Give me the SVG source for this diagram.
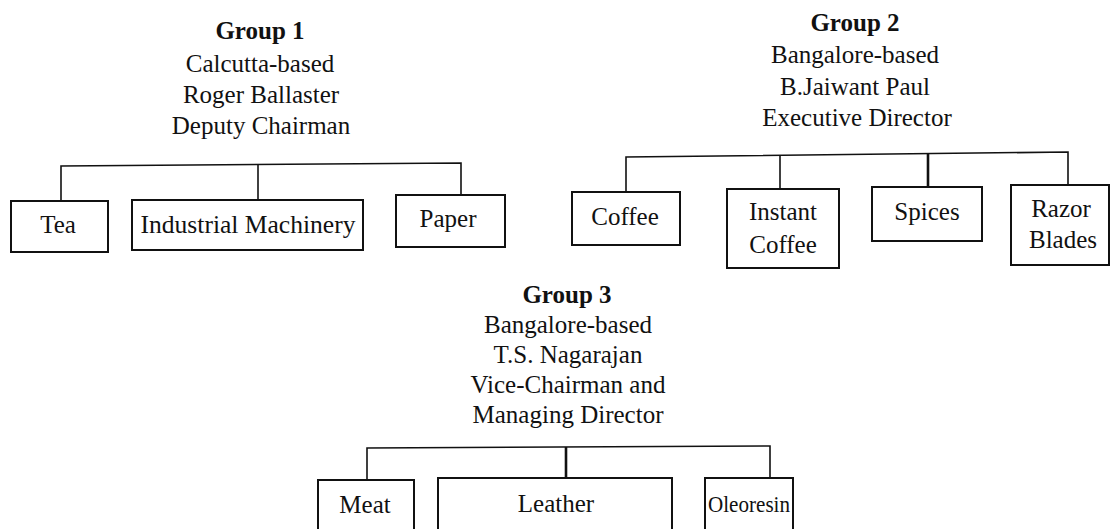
<svg xmlns="http://www.w3.org/2000/svg" width="1114" height="529" viewBox="0 0 1114 529">
<style>
text{font-family:"Liberation Serif","Times New Roman",serif;font-size:25px;fill:#111;text-anchor:middle}
.t{font-weight:bold}
.box{fill:none;stroke:#111;stroke-width:2}
.c{fill:none;stroke:#111;stroke-width:1.6}
.k{fill:none;stroke:#111;stroke-width:2.6}
</style>
<rect width="1114" height="529" fill="#fff"/>
<g id="connectors">
<polyline class="c" points="61,201 61,166 461,163 461,195"/>
<line class="c" x1="258" y1="165" x2="258" y2="200"/>
<polyline class="c" points="626,192 626,157 1068,152 1068,185"/>
<line class="c" x1="780" y1="156" x2="780" y2="189"/>
<line class="k" x1="928" y1="154" x2="928" y2="187"/>
<polyline class="c" points="367,480 367,448 770,446 770,478"/>
<line class="k" x1="566" y1="447" x2="566" y2="478"/>
</g>
<g id="group1">
<text class="t" x="260" y="39">Group 1</text>
<text x="260" y="72">Calcutta-based</text>
<text x="261" y="103">Roger Ballaster</text>
<text x="261" y="134">Deputy Chairman</text>
</g>
<g id="group2">
<text class="t" x="855" y="31">Group 2</text>
<text x="855" y="63">Bangalore-based</text>
<text x="855" y="95">B.Jaiwant Paul</text>
<text x="857" y="126">Executive Director</text>
</g>
<g id="group3">
<text class="t" x="567" y="303">Group 3</text>
<text x="568" y="333">Bangalore-based</text>
<text x="568" y="363">T.S. Nagarajan</text>
<text x="568" y="393">Vice-Chairman and</text>
<text x="568" y="423">Managing Director</text>
</g>
<g id="tea"><rect class="box" x="11" y="201" width="97" height="51"/><text x="58" y="233">Tea</text></g>
<g id="industrial"><rect class="box" x="132" y="200" width="231" height="50"/><text x="248" y="233" textLength="215" lengthAdjust="spacingAndGlyphs">Industrial Machinery</text></g>
<g id="paper"><rect class="box" x="396" y="195" width="109" height="52"/><text x="448" y="227">Paper</text></g>
<g id="coffee"><rect class="box" x="572" y="192" width="108" height="53"/><text x="625" y="225">Coffee</text></g>
<g id="instant"><rect class="box" x="727" y="189" width="112" height="79"/><text x="783" y="220">Instant</text><text x="783" y="253">Coffee</text></g>
<g id="spices"><rect class="box" x="872" y="187" width="110" height="54"/><text x="927" y="220">Spices</text></g>
<g id="razor"><rect class="box" x="1011" y="185" width="98" height="80"/><text x="1061" y="217">Razor</text><text x="1063" y="248">Blades</text></g>
<g id="meat"><rect class="box" x="318" y="480" width="96" height="70"/><text x="365" y="513">Meat</text></g>
<g id="leather"><rect class="box" x="438" y="478" width="234" height="70"/><text x="556" y="512">Leather</text></g>
<g id="oleoresin"><rect class="box" x="705" y="478" width="88" height="70"/><text x="749" y="512" style="font-size:23px" textLength="82" lengthAdjust="spacingAndGlyphs">Oleoresin</text></g>
</svg>
